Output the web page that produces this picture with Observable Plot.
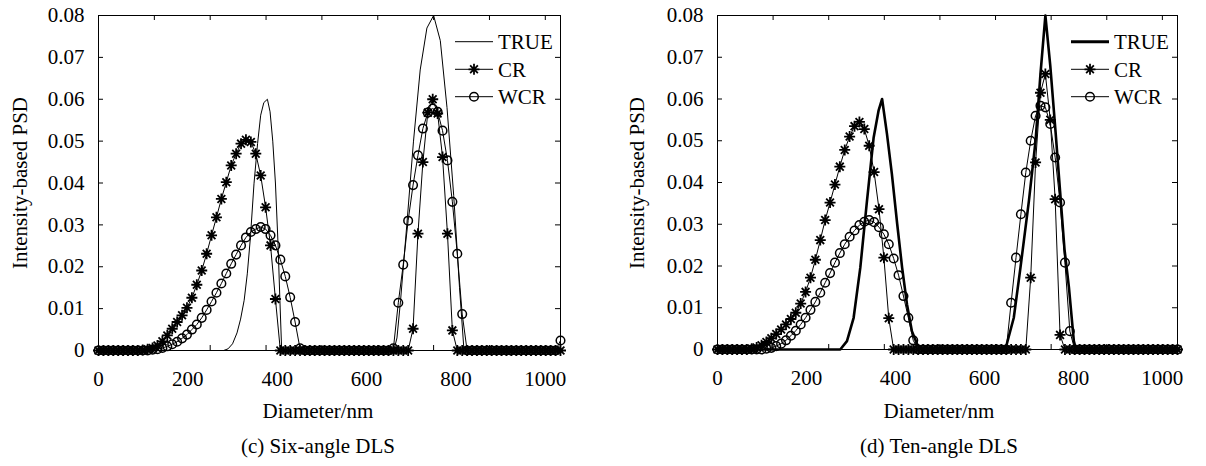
<!DOCTYPE html>
<html><head><meta charset="utf-8">
<script src="https://cdn.jsdelivr.net/npm/d3@7"></script>
<script src="https://cdn.jsdelivr.net/npm/@observablehq/plot@0.6"></script>
<style>
body{margin:0;background:#fff;width:1206px;height:466px;overflow:hidden;font-family:"Liberation Serif",serif;}
#wrap{position:relative;width:1206px;height:466px;}
.panel{position:absolute;top:0;}
.lbl{position:absolute;font-size:21px;color:#000;white-space:nowrap;transform:translate(-50%,-50%);line-height:1;}
.ylbl{transform:translate(-50%,-50%) rotate(-90deg);}
.leg{position:absolute;top:0;left:0;overflow:visible;}
</style></head><body><div id="wrap"></div>
<script>
// ---------- data ----------
const diameter = [0,11,22,33,44,55,66,77,88,99,
110,121,132,143,154,165,176,187,198,209,
220,231,242,253,264,275,286,297,308,319,
330,341,352,363,374,385,396,407,418,429,
440,451,462,473,484,495,506,517,528,539,
550,561,572,583,594,605,616,627,638,649,
660,671,682,693,704,715,726,737,748,759,
770,781,792,803,814,825,836,847,858,869,
880,891,902,913,924,935,946,957,968,979,
990,1001,1012,1023,1034];

const sixCR = [0,0,0,0,0,0,0,0,0,0.0001,
0.0003,0.0006,0.0012,0.0022,0.0036,0.0052,0.0068,0.0084,0.0102,0.0126,
0.0157,0.0191,0.0231,0.0275,0.0318,0.0362,0.0402,0.0442,0.047,0.0494,
0.0503,0.0498,0.047,0.0418,0.0342,0.0251,0.0123,0,0,0,
0,0,0,0,0,0,0,0,0,0,
0,0,0,0,0,0,0,0,0,0,
0,0,0,0,0.0052,0.0279,0.045,0.0568,0.06,0.0566,
0.0462,0.0279,0.0048,0,0,0,0,0,0,0,
0,0,0,0,0,0,0,0,0,0,
0,0,0,0,0];

const sixWCR = [0,0,0,0,0,0,0,0,0,0,
0,0.0002,0.0003,0.0006,0.001,0.0015,0.0021,0.0029,0.0038,0.005,
0.0062,0.0078,0.0097,0.0117,0.0138,0.016,0.0184,0.0207,0.0229,0.0251,
0.027,0.0283,0.029,0.0295,0.029,0.0275,0.0251,0.0217,0.0177,0.0127,
0.0068,0.0005,0,0,0,0,0,0,0,0,
0,0,0,0,0,0,0,0,0,0,
0.0005,0.0114,0.0205,0.031,0.0395,0.0466,0.053,0.0568,0.0578,0.057,
0.0525,0.0454,0.0355,0.0231,0.0087,0,0,0,0,0,
0,0,0,0,0,0,0,0,0,0,
0,0,0,0,0.0024];

const tenCR = [0,0,0,0,0,0,0,0.0002,0.0005,0.001,
0.0018,0.0027,0.0037,0.0048,0.006,0.0073,0.0088,0.011,0.0138,0.0172,
0.0215,0.0262,0.031,0.0352,0.0395,0.0438,0.0478,0.051,0.0535,0.0545,
0.0528,0.0488,0.0425,0.0336,0.022,0.0075,0,0,0,0,
0,0,0,0,0,0,0,0,0,0,
0,0,0,0,0,0,0,0,0,0,
0,0,0,0,0.0172,0.0448,0.0615,0.066,0.055,0.036,
0.0035,0,0,0,0,0,0,0,0,0,
0,0,0,0,0,0,0,0,0,0,
0,0,0,0,0];

const tenWCR = [0,0,0,0,0,0,0,0,0,0,
0.0002,0.0004,0.0008,0.0014,0.0022,0.0033,0.0045,0.006,0.0076,0.0095,
0.0114,0.0136,0.016,0.0183,0.0208,0.0231,0.0252,0.027,0.0285,0.0298,
0.0306,0.031,0.0305,0.0293,0.0276,0.0252,0.0218,0.0178,0.0128,0.0076,
0.0022,0,0,0,0,0,0,0,0,0,
0,0,0,0,0,0,0,0,0,0,
0.0112,0.022,0.0324,0.0424,0.05,0.056,0.0584,0.058,0.054,0.046,
0.0352,0.0208,0.0044,0,0,0,0,0,0,0,
0,0,0,0,0,0,0,0,0,0,
0,0,0,0,0];

const sixTrueD = [0,280,290,300,310,318,326,333,340,348,356,363,370,378,384,390,396,402,406,410,
661,668,676,690,705,720,735,750,765,780,795,808,818,1034];
const sixTrueV = [0,0,0.0004,0.0016,0.0042,0.0075,0.012,0.0183,0.027,0.0398,0.0494,0.0562,0.0592,0.06,0.057,0.05,0.04,0.025,0.012,0,
0,0.003,0.0119,0.03,0.05,0.067,0.077,0.08,0.074,0.058,0.037,0.015,0,0];

const tenTrueD = [0,276,291,306,321,336,351,362,370,381,392,404,415,426,437,449,460,
647,666,681,700,715,726,737,748,760,770,780,790,801,806,1034];
const tenTrueV = [0,0,0.002,0.0076,0.0196,0.0356,0.0508,0.0572,0.06,0.0516,0.042,0.03,0.0196,0.0108,0.0044,0.0012,0,
0,0.0076,0.0196,0.0356,0.05,0.066,0.08,0.068,0.052,0.038,0.024,0.0148,0.002,0,0];

const yTicks = [0,0.01,0.02,0.03,0.04,0.05,0.06,0.07,0.08];
const xTickMarks = [0,125,250,375,500,625,750,875,1000];
const xTickLabels = [0,200,400,600,800,1000];
const seriesNames = ["TRUE","CR","WCR"];
const xTitle = "Diameter/nm";
const yTitle = "Intensity-based PSD";
const captions = ["(c) Six-angle DLS","(d) Ten-angle DLS"];

// ---------- drawing ----------
const FONT = "'Liberation Serif',serif";
const star8 = {draw(ctx, size){
  const r = Math.sqrt(size/Math.PI), d = r*0.7071;
  ctx.moveTo(-r,0);ctx.lineTo(r,0);ctx.moveTo(0,-r);ctx.lineTo(0,r);
  ctx.moveTo(-d,-d);ctx.lineTo(d,d);ctx.moveTo(-d,d);ctx.lineTo(d,-d);
}};

const W = 603, H = 400, MT = 15;
function panel(cfg){
  const fw = W - cfg.ml - cfg.mr, fh = H - MT - cfg.mb;
  const cr = diameter.map((d,i)=>({d, v: cfg.cr[i]}));
  const wcr = diameter.map((d,i)=>({d, v: cfg.wcr[i]}));
  const tru = cfg.trueD.map((d,i)=>({d, v: cfg.trueV[i]}));
  return Plot.plot({
    width: W, height: H,
    marginLeft: cfg.ml, marginRight: cfg.mr, marginTop: MT, marginBottom: cfg.mb,
    x: {domain:[0,1034]},
    y: {domain:[0,0.08]},
    style: {fontFamily: FONT, fontSize:"21px", color:"#000", background:"transparent", overflow:"visible"},
    marks: [
      Plot.axisX({ticks: xTickLabels, tickSize:0, tickPadding:21, label:null, tickFormat:d=>String(d), fontSize:21}),
      Plot.axisY({ticks: yTicks, tickSize:0, tickPadding:14, label:null, tickFormat:d=> d===0 ? "0" : d.toFixed(2), fontSize:21}),
      Plot.tickX(xTickMarks, {x:d=>d, insetTop: fh-5, stroke:"#000"}),
      Plot.tickX(xTickMarks, {x:d=>d, insetBottom: fh-5, stroke:"#000"}),
      Plot.tickY(yTicks, {y:d=>d, insetRight: fw-5, stroke:"#000"}),
      Plot.tickY(yTicks, {y:d=>d, insetLeft: fw-5, stroke:"#000"}),
      Plot.frame({stroke:"#000", strokeWidth:1}),
      Plot.line(tru, {x:"d", y:"v", stroke:"#000", strokeWidth: cfg.trueW}),
      Plot.line(cr, {x:"d", y:"v", stroke:"#000", strokeWidth:1}),
      Plot.dot(cr, {x:"d", y:"v", symbol: star8, r:5.5, stroke:"#000", strokeWidth:1.8, fill:"none"}),
      Plot.line(wcr, {x:"d", y:"v", stroke:"#000", strokeWidth:1}),
      Plot.dot(wcr, {x:"d", y:"v", symbol:"circle", r:4.3, stroke:"#000", strokeWidth:1.5, fill:"none"})
    ]
  });
}

const wrap = document.getElementById("wrap");
const panels = [
  {left:0, ml:98, mr:43, mb:50, cr:sixCR, wcr:sixWCR, trueD:sixTrueD, trueV:sixTrueV, trueW:1,
   xt:318, yl:20, cap:captions[0], legX:455, trueLeg:1},
  {left:603, ml:114, mr:29, mb:51, cr:tenCR, wcr:tenWCR, trueD:tenTrueD, trueV:tenTrueV, trueW:2.6,
   xt:939, yl:637, cap:captions[1], legX:1071, trueLeg:3}
];
for (const p of panels){
  const div = document.createElement("div");
  div.className = "panel"; div.style.left = p.left + "px";
  div.appendChild(panel(p));
  wrap.appendChild(div);
  const add = (txt, x, y, cls) => {
    const e = document.createElement("div");
    e.className = "lbl" + (cls ? " " + cls : "");
    e.textContent = txt; e.style.left = x + "px"; e.style.top = y + "px";
    wrap.appendChild(e);
  };
  add(xTitle, p.xt, 411, "");
  add(p.cap, p.xt, 446, "");
  add(yTitle, p.yl, 183, "ylbl");
  // legend
  const svg = d3.select(wrap).append("svg").attr("class","leg").attr("width",1206).attr("height",466);
  const ys = [41.7, 69.3, 96.7];
  seriesNames.forEach((name, k) => {
    const g = svg.append("g").attr("transform", `translate(${p.legX},${ys[k]})`);
    g.append("line").attr("x1",0).attr("x2",38).attr("y1",0).attr("y2",0)
      .attr("stroke","#000").attr("stroke-width", k===0 ? p.trueLeg : 1);
    if (k===1) g.append("path").attr("transform","translate(19,0)")
      .attr("d", d3.symbol(star8, Math.PI*30)()).attr("stroke","#000").attr("stroke-width",1.8).attr("fill","none");
    if (k===2) g.append("circle").attr("cx",19).attr("cy",0).attr("r",4.3)
      .attr("stroke","#000").attr("stroke-width",1.5).attr("fill","none");
    g.append("text").attr("x",43).attr("y",0).attr("dy","0.35em")
      .attr("font-family",FONT).attr("font-size",21).attr("fill","#000").text(name);
  });
}
</script></body></html>
